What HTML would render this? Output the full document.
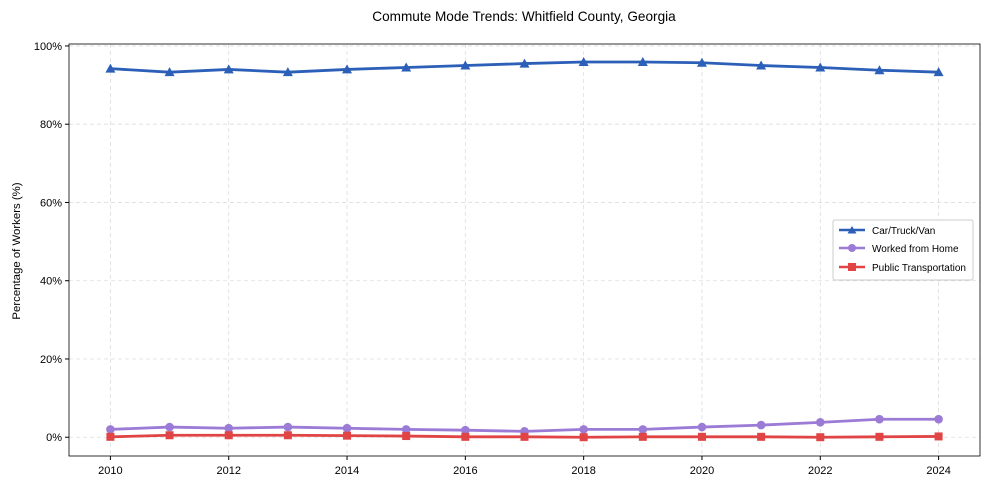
<!DOCTYPE html>
<html><head><meta charset="utf-8"><style>
body{margin:0;background:#fff;}
svg text{font-family:"Liberation Sans Narrow","Liberation Sans",sans-serif;fill:#000;}
</style></head><body>
<svg id="chart" width="989" height="490" xmlns="http://www.w3.org/2000/svg">
<rect width="989" height="490" fill="#fff"/>
<text x="524" y="21" text-anchor="middle" font-size="13.6">Commute Mode Trends: Whitfield County, Georgia</text>
<g id="grid"></g>
<g id="axes"></g>
<g id="series"></g>
<text transform="translate(20,251) rotate(-90)" text-anchor="middle" font-size="11.4">Percentage of Workers (%)</text>
<g id="legend">
<rect x="833" y="220" width="140" height="60" fill="#fff" stroke="#ccc" rx="2"/>
<line x1="839" y1="230" x2="865" y2="230" stroke="#2b5fb8" stroke-width="2.5"/><path d="M852,226 L856.5,233.5 L847.5,233.5Z" fill="#2b5fb8"/>
<text x="872" y="234" font-size="10">Car/Truck/Van</text>
<line x1="839" y1="248" x2="865" y2="248" stroke="#9b7bd6" stroke-width="2.5"/><circle cx="852" cy="248" r="4" fill="#9b7bd6"/>
<text x="872" y="252" font-size="10">Worked from Home</text>
<line x1="839" y1="267" x2="865" y2="267" stroke="#e04444" stroke-width="2.5"/><rect x="848" y="263" width="8" height="8" fill="#e04444"/>
<text x="872" y="271" font-size="10">Public Transportation</text>
</g>
</svg>
<script>
const years=[2010,2011,2012,2013,2014,2015,2016,2017,2018,2019,2020,2021,2022,2023,2024];
const carValues=[94.2,93.3,94.0,93.3,94.0,94.5,95.0,95.5,95.9,95.9,95.7,95.0,94.5,93.8,93.3];
const wfhValues=[2.0,2.6,2.3,2.6,2.3,2.0,1.8,1.5,2.0,2.0,2.6,3.1,3.8,4.6,4.6];
const ptValues=[0.1,0.5,0.5,0.5,0.4,0.3,0.1,0.1,0,0.1,0.1,0.1,0,0.1,0.2];
const yTicks=[0,20,40,60,80,100];
const xTicks=[2010,2012,2014,2016,2018,2020,2022,2024];
const L=69,R=980,T=44,B=456;
const xmin=2009.3,xmax=2024.7,ymin=-4.8,ymax=100.5;
const sx=v=>L+(v-xmin)/(xmax-xmin)*(R-L);
const sy=v=>B-(v-ymin)/(ymax-ymin)*(B-T);
const NS="http://www.w3.org/2000/svg";
function mk(tag,attrs,parent){const e=document.createElementNS(NS,tag);for(const k in attrs)e.setAttribute(k,attrs[k]);parent.appendChild(e);return e;}
const grid=document.getElementById('grid'),axes=document.getElementById('axes'),ser=document.getElementById('series');
yTicks.forEach(t=>{const y=sy(t);
 const g=mk('line',{x1:L,x2:R,y1:y,y2:y,stroke:'#ddd','stroke-dasharray':'4,3','stroke-width':0.8},grid);
 
 
 mk('line',{x1:L-4,x2:L,y1:y,y2:y,stroke:'#000'},axes);
 const tx=mk('text',{x:L-7,y:y+4,'text-anchor':'end','font-size':11},axes);tx.textContent=t+'%';
 
 
});
xTicks.forEach(t=>{const x=sx(t);
 const g=mk('line',{x1:x,x2:x,y1:T,y2:B,stroke:'#ddd','stroke-dasharray':'4,3','stroke-width':0.8},grid);
 
 
 mk('line',{x1:x,x2:x,y1:B,y2:B+4,stroke:'#000'},axes);
 const tx=mk('text',{x:x,y:B+18,'text-anchor':'middle','font-size':11},axes);tx.textContent=t;
 
 
});
const frame=mk('rect',{x:L,y:T,width:R-L,height:B-T,fill:'none',stroke:'#000','stroke-width':0.8},axes);


function series(vals,color,marker,name){
 const p=mk('polyline',{points:vals.map((v,i)=>sx(years[i])+','+sy(v)).join(' '),fill:'none',stroke:color,'stroke-width':2.8},ser);
 
 
 vals.forEach((v,i)=>{const x=sx(years[i]),y=sy(v);let m;
  if(marker==='tri')m=mk('path',{d:`M${x},${y-5} L${x+5},${y+4} L${x-5},${y+4}Z`,fill:color},ser);
  else if(marker==='circ')m=mk('circle',{cx:x,cy:y,r:4.3,fill:color},ser);
  else m=mk('rect',{x:x-4,y:y-4,width:8,height:8,fill:color},ser);
  
  
 });
}
series(wfhValues,'#9b7bd6','circ','wfh');
series(ptValues,'#e04444','sq','public-transport');
series(carValues,'#2b5fb8','tri','car');
</script>
</body></html>
